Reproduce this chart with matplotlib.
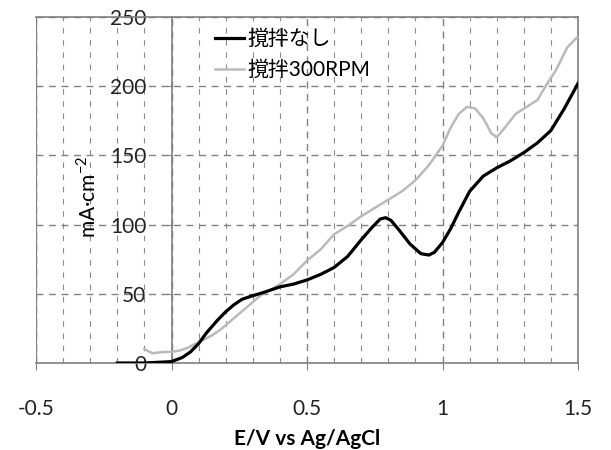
import matplotlib
matplotlib.use("Agg")
import matplotlib.pyplot as plt
from matplotlib.ticker import MultipleLocator

plt.rcParams['font.family'] = ['Lato', 'Noto Sans CJK JP', 'DejaVu Sans']

# Data: 撹拌なし (no stirring)
x_none = [-0.2, -0.1, 0.0, 0.04, 0.07, 0.10, 0.13, 0.17, 0.20, 0.23, 0.26, 0.29, 0.34,
          0.40, 0.45, 0.50, 0.55, 0.60, 0.65, 0.70, 0.74, 0.77, 0.79, 0.81, 0.84, 0.88,
          0.92, 0.95, 0.97, 1.00, 1.03, 1.06, 1.10, 1.15, 1.20, 1.25, 1.30, 1.35, 1.40,
          1.45, 1.50]
y_none = [0, 0, 1, 4, 8, 14, 22, 31, 37, 42, 46, 48, 51,
          55, 57, 60, 64, 69, 77, 89, 98, 104, 105, 103, 96, 86,
          79, 78, 80, 87, 97, 109, 124, 135, 141, 146, 152, 159, 168,
          184, 202]

# Data: 撹拌300RPM
x_rpm = [-0.10, -0.07, -0.03, 0.0, 0.03, 0.06, 0.09, 0.12, 0.15, 0.18, 0.21, 0.24, 0.27,
         0.30, 0.33, 0.36, 0.40, 0.45, 0.50, 0.55, 0.60, 0.65, 0.70, 0.75, 0.80, 0.85,
         0.90, 0.95, 1.00, 1.03, 1.06, 1.09, 1.12, 1.15, 1.18, 1.20, 1.23, 1.27, 1.31,
         1.35, 1.39, 1.42, 1.46, 1.50]
y_rpm = [10, 7, 8, 8, 9, 11, 14, 17, 20, 24, 29, 34, 39,
         44, 49, 52, 57, 64, 74, 82, 93, 99, 106, 112, 118, 124,
         132, 143, 157, 170, 180, 185, 184, 177, 166, 163, 170, 180, 185,
         190, 203, 212, 228, 236]

labels = ['撹拌なし', '撹拌300RPM']
xticks = [-0.5, 0, 0.5, 1, 1.5]
xticklabels = ['-0.5', '0', '0.5', '1', '1.5']
yticks = [0, 50, 100, 150, 200, 250]

fig = plt.figure(figsize=(6.11, 4.5), dpi=100)
ax = fig.add_axes([36/611, 1 - 363/450, 542/611, 346/450])

ax.set_xlim(-0.5, 1.5)
ax.set_ylim(0, 250)

gcol = '#808080'
# grid
ax.xaxis.set_minor_locator(MultipleLocator(0.1))
ax.grid(which='minor', axis='x', color='#8c8c8c', linestyle=(0, (5, 6)), linewidth=0.8)
ax.grid(which='major', axis='x', color=gcol, linestyle=(0, (5, 4)), linewidth=1.0)
ax.grid(which='major', axis='y', color=gcol, linestyle=(0, (5, 4)), linewidth=1.0)
ax.set_axisbelow(True)

ax.plot(x_rpm, y_rpm, color='#bababa', linewidth=1.8, label=labels[1], zorder=3)
ax.plot(x_none, y_none, color='black', linewidth=2.3, label=labels[0], zorder=4)

# spines
for s in ['top', 'right', 'bottom']:
    ax.spines[s].set_color(gcol)
    ax.spines[s].set_linewidth(1.2)
ax.spines['left'].set_position(('data', 0))
ax.spines['left'].set_color(gcol)
ax.spines['left'].set_linewidth(1.2)
ax.axvline(-0.5, color=gcol, linewidth=1.6, zorder=5)

ax.set_xticks(xticks)
ax.set_xticklabels(xticklabels)
ax.set_yticks(yticks)
ax.tick_params(axis='x', which='major', direction='out', length=5, color=gcol,
               labelsize=15, pad=21, labelcolor='#222222')
ax.tick_params(axis='x', which='minor', length=0)
ax.tick_params(axis='y', direction='out', length=4, color=gcol, labelsize=15,
               pad=14, labelcolor='#222222')

ax.set_xlabel('E/V vs Ag/AgCl', fontsize=15, fontweight='bold', labelpad=7)
ax.set_ylabel('mA·cm$^{\\mathregular{-2}}$', fontsize=15)
ax.yaxis.set_label_coords(0.118, 0.48)

handles, labs = ax.get_legend_handles_labels()
leg = ax.legend(handles[::-1], labs[::-1], loc='upper left', bbox_to_anchor=(0.295, 1.02),
                frameon=False, fontsize=15, handlelength=1.4, handletextpad=0.15,
                labelspacing=0.55)

fig.savefig('out.png', dpi=100)
